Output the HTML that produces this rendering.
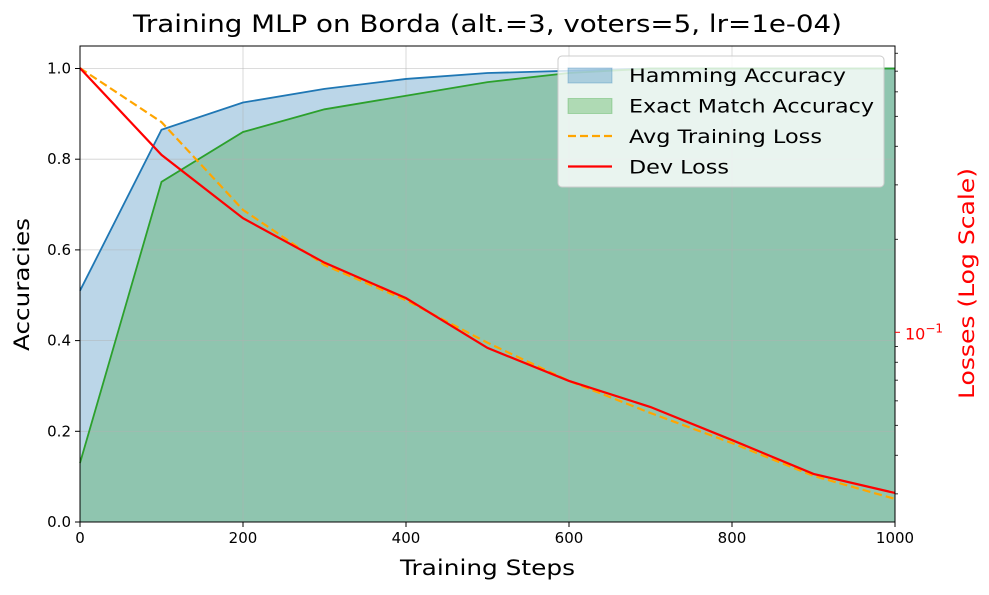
<!DOCTYPE html>
<html><head><meta charset="utf-8"><style>
body{margin:0;background:#fff}
svg text{font-family:"DejaVu Sans","Liberation Sans",sans-serif}
</style></head><body>
<svg id="c" width="989" height="590" xmlns="http://www.w3.org/2000/svg"></svg>
<script>
const steps=[0,100,200,300,400,500,600,700,800,900,1000];
const hamming=[0.51,0.865,0.925,0.955,0.977,0.99,0.995,1.0,1.0,1.0,1.0];
const exact=[0.13,0.75,0.86,0.91,0.94,0.97,0.99,1.0,1.0,1.0,1.0];
const trainLoss=[0.716,0.479,0.249,0.165,0.127,0.0925,0.0696,0.0548,0.0438,0.0343,0.0289];
const devLoss=[0.716,0.375,0.234,0.168,0.129,0.089,0.0696,0.0573,0.0448,0.0348,0.0302];
const xTicks=[0,200,400,600,800,1000];
const yTicks=[0,0.2,0.4,0.6,0.8,1.0];
const L=80,R=895,T=46,B=522;
const X=v=>L+(v/1000)*(R-L);
const Y=v=>522-v*453.5;
const YL=v=>332.3-309*Math.log10(v/0.1);
const NS="http://www.w3.org/2000/svg";
const svg=document.getElementById('c');
function mk(t,a,p){const e=document.createElementNS(NS,t);for(const k in a)e.setAttribute(k,a[k]);(p||svg).appendChild(e);return e;}
// areas
function area(arr,fill,name){let d='M'+X(steps[0])+','+Y(0);steps.forEach((s,i)=>d+='L'+X(s)+','+Y(arr[i]));d+='L'+X(1000)+','+Y(0)+'Z';
const p=mk('path',{d,fill});

}
area(hamming,'rgba(31,119,180,0.3)','hamming-area');
area(exact,'rgba(44,160,44,0.3)','exact-area');
// grid
for(const t of xTicks){const g=mk('line',{x1:X(t),x2:X(t),y1:T,y2:B,stroke:'rgba(176,176,176,0.6)','stroke-width':0.8});

}
for(const t of yTicks){const g=mk('line',{x1:L,x2:R,y1:Y(t),y2:Y(t),stroke:'rgba(176,176,176,0.6)','stroke-width':0.8});

}
function line(arr,f,stroke,w,dash,name){const d=steps.map((s,i)=>(i?'L':'M')+X(s)+','+f(arr[i])).join('');
const p=mk('path',{d,fill:'none',stroke,'stroke-width':w});if(dash)p.setAttribute('stroke-dasharray',dash);

}
line(hamming,Y,'#1f77b4',1.8,null,'hamming-line');
line(exact,Y,'#2ca02c',1.8,null,'exact-line');
line(trainLoss,YL,'orange',2.2,'8,4','train-loss-line');
line(devLoss,YL,'red',2.2,null,'dev-loss-line');
const fr=mk('rect',{x:L,y:T,width:R-L,height:B-T,fill:'none',stroke:'#000','stroke-width':1});


for(const t of xTicks){mk('line',{x1:X(t),x2:X(t),y1:B,y2:B+5,stroke:'#000'});
const tx=mk('text',{x:X(t),y:B+21,'font-size':15,'text-anchor':'middle'});tx.textContent=t;

}
for(const t of yTicks){mk('line',{x1:L-5,x2:L,y1:Y(t),y2:Y(t),stroke:'#000'});
const tx=mk('text',{x:L-9,y:Y(t)+5,'font-size':15,'text-anchor':'end'});tx.textContent=t.toFixed(1);

}
const minors=[0.03,0.04,0.05,0.06,0.07,0.08,0.09,0.2,0.3,0.4,0.5,0.6,0.7,0.8];
for(const m of minors){mk('line',{x1:R,x2:R+3,y1:YL(m),y2:YL(m),stroke:'#000','stroke-width':0.8});}
mk('line',{x1:R,x2:R+5,y1:YL(0.1),y2:YL(0.1),stroke:'red'});
const rt=mk('text',{x:R+10,y:YL(0.1)+7,'font-size':16,fill:'red'});rt.innerHTML='10<tspan dy="-7" font-size="12">−1</tspan>';


function txt(s,a,name){const t=mk('text',a);t.textContent=s;

return t;}
txt('Training MLP on Borda (alt.=3, voters=5, lr=1e-04)',{x:133,y:32,'font-size':24,textLength:709,lengthAdjust:'spacingAndGlyphs'},'chart-title');
txt('Training Steps',{x:400,y:575,'font-size':21,textLength:175,lengthAdjust:'spacingAndGlyphs'},'x-axis-title');
txt('Accuracies',{x:0,y:0,'font-size':21,textLength:133,lengthAdjust:'spacingAndGlyphs',transform:'translate(29,351) rotate(-90)'},'y-axis-title');
txt('Losses (Log Scale)',{x:0,y:0,'font-size':21,textLength:231,lengthAdjust:'spacingAndGlyphs',fill:'red',transform:'translate(974,399) rotate(-90)'},'right-axis-title');
const lg=mk('g',{});


mk('rect',{x:558,y:56,width:326,height:131,rx:4,fill:'rgba(255,255,255,0.8)',stroke:'#ccc'},lg);
const entries=[['Hamming Accuracy','patch','rgba(31,119,180,0.3)',217],['Exact Match Accuracy','patch','rgba(44,160,44,0.3)',245],['Avg Training Loss','dash','orange',193],['Dev Loss','line','red',100]];
entries.forEach((e,i)=>{const y=75+i*30.5;
const g=mk('g',{},lg);


if(e[1]==='patch')mk('rect',{x:568,y:y-7,width:44,height:15,fill:e[2],stroke:e[2]},g);
else{const l=mk('line',{x1:568,x2:612,y1:y,y2:y,stroke:e[2],'stroke-width':2.2},g);if(e[1]==='dash')l.setAttribute('stroke-dasharray','8,4');}
const t=mk('text',{x:629,y:y+7,'font-size':19,textLength:e[3],lengthAdjust:'spacingAndGlyphs'},g);t.textContent=e[0];});
</script>
</body></html>
